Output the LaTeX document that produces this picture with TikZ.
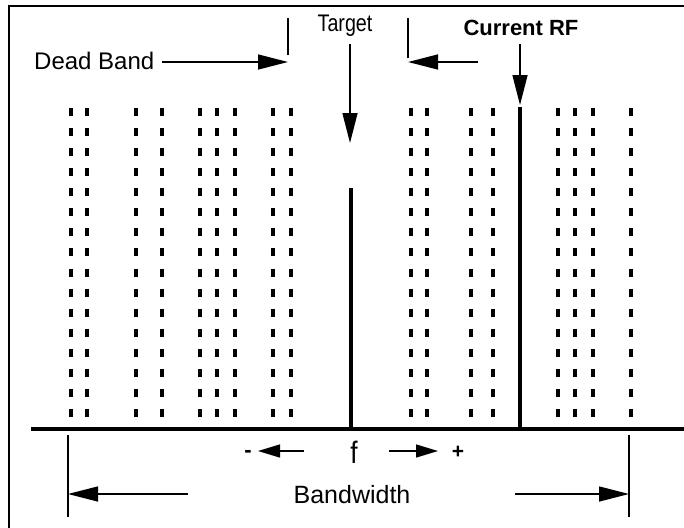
\documentclass[tikz,border=0pt]{standalone}
\usepackage{fontspec}
\setmainfont{Liberation Sans}
\usetikzlibrary{arrows.meta}
\tikzset{
  thinline/.style={line width=1.4pt},
  thickline/.style={line width=3.8pt},
  bigarrow/.style={line width=1.4pt,-{Triangle[length=30pt,width=15pt]}},
  midarrow/.style={line width=1.4pt,-{Triangle[length=22pt,width=13pt]}},
  dotcol/.style={line width=3.6pt,dash pattern=on 8pt off 12.0667pt},
  lbl/.style={inner sep=0pt,font=\fontsize{22}{24}\selectfont},
}
\begin{document}
\begin{tikzpicture}[x=1pt,y=-1pt]
\useasboundingbox (0,0) rectangle (684,527);
% frame
\draw[line width=2pt] (9,6) rectangle (710,560);
% dotted columns
\foreach \cx in {71,87,136,162,200,217,235,273,291,411,427,471,493,558,575,593,631}
  \draw[dotcol] (\cx,108) -- (\cx,417);
% baseline
\coordinate (b0) at (31,429);
\coordinate (b1) at (700,429);
\draw[thickline] (b0) -- (b1);
% target line
\coordinate (tt) at (351,188);
\coordinate (tb) at (351,429);
\draw[thickline,line width=3.4pt] (tt) -- (tb);
% current RF line
\coordinate (ct) at (520,107);
\coordinate (cb) at (520,429);
\draw[thickline] (ct) -- (cb);
% Target label and arrow
\node[lbl,anchor=base] (target) at (345,32) {\scalebox{0.82}[1]{\fontsize{24}{26}\selectfont Target}};
\coordinate (ta0) at (350,44);
\coordinate (ta1) at (350,143);
\draw[bigarrow] (ta0) -- (ta1);
% Current RF label and arrow
\node[lbl,anchor=base] (current) at (521,36) {\fontsize{22}{24}\selectfont\bfseries Current RF};
\coordinate (ca0) at (520,44);
\coordinate (ca1) at (520,105);
\draw[bigarrow] (ca0) -- (ca1);
% Dead band
\node[lbl,anchor=base west] (dead) at (34,70) {\fontsize{24}{26}\selectfont Dead Band};
\coordinate (dt1a) at (288,18);
\coordinate (dt1b) at (288,55);
\coordinate (dt2a) at (408,18);
\coordinate (dt2b) at (408,58);
\draw[thinline] (dt1a) -- (dt1b);
\draw[thinline] (dt2a) -- (dt2b);
\coordinate (da0) at (162,62);
\coordinate (da1) at (288,62);
\draw[bigarrow] (da0) -- (da1);
\coordinate (db0) at (478,62);
\coordinate (db1) at (408,62);
\draw[bigarrow] (db0) -- (db1);
% f with - and +
\node[lbl,anchor=base] (f) at (354,463) {\scalebox{0.85}[1]{\fontsize{31}{33}\selectfont f}};
\node[lbl,anchor=base,font=\fontsize{22}{24}\selectfont\bfseries] (minus) at (248,457) {-};
\node[lbl,anchor=base,font=\fontsize{21}{23}\selectfont\bfseries] (plus) at (458,458) {+};
\coordinate (ma0) at (304,451);
\coordinate (ma1) at (258,451);
\draw[midarrow] (ma0) -- (ma1);
\coordinate (pa0) at (389,451);
\coordinate (pa1) at (438,451);
\draw[midarrow] (pa0) -- (pa1);
% Bandwidth
\coordinate (bw1a) at (68,435);
\coordinate (bw1b) at (68,517);
\coordinate (bw2a) at (629,435);
\coordinate (bw2b) at (629,517);
\draw[thinline] (bw1a) -- (bw1b);
\draw[thinline] (bw2a) -- (bw2b);
\node[lbl,anchor=base] (bw) at (352,503) {\fontsize{25}{27}\selectfont Bandwidth};
\coordinate (la0) at (188,494);
\coordinate (la1) at (68,494);
\draw[bigarrow] (la0) -- (la1);
\coordinate (ra0) at (515,494);
\coordinate (ra1) at (629,494);
\draw[bigarrow] (ra0) -- (ra1);
\end{tikzpicture}
\end{document}
